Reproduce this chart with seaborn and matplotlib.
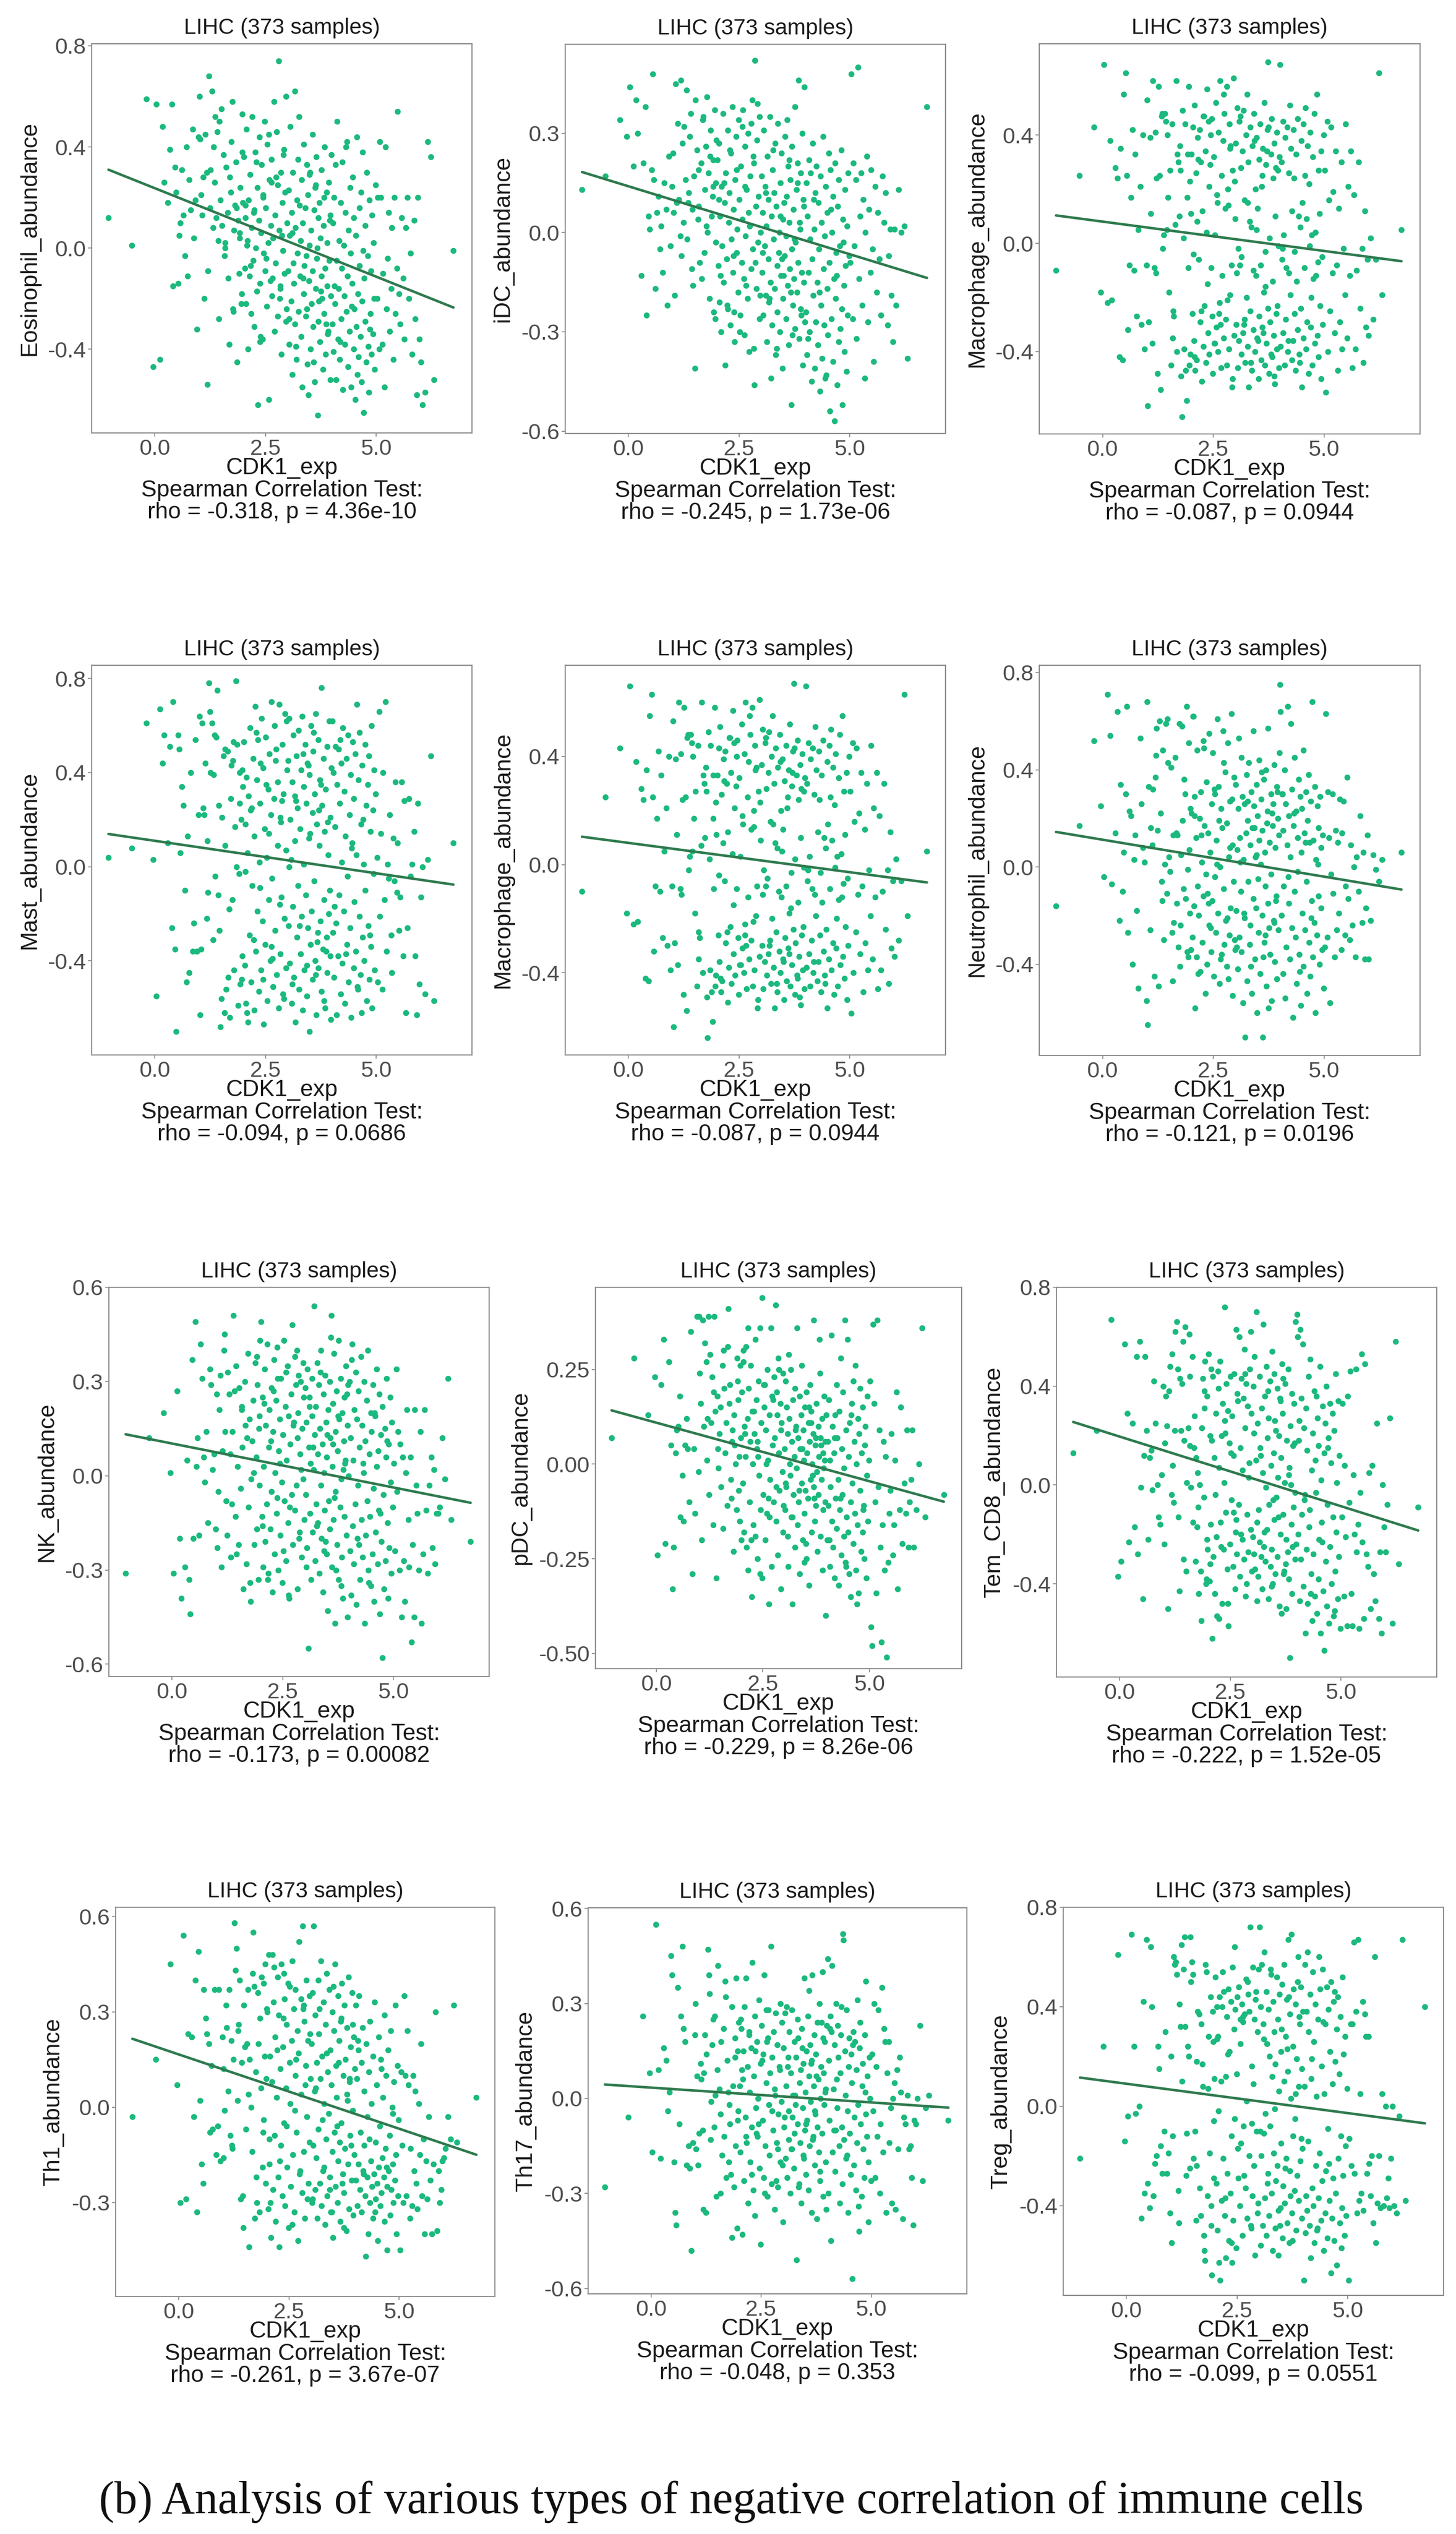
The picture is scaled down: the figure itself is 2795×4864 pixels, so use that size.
import numpy as np
import pandas as pd
import seaborn as sns
import matplotlib.pyplot as plt

W, H, DPI = 2795, 4864, 100

# CDK1 expression per sample, in hundredths (same samples in every panel)
cdk1_exp = [
    -105, -52, -19, -4,
    3, 11, 17, 21, 29, 34, 38, 41, 45, 48, 52, 55, 57, 61, 64, 68, 71, 74, 77, 81, 85, 88, 91, 95, 99,
    101, 104, 107, 109, 112, 114, 117, 119, 122, 124, 126, 129, 131, 133, 136, 138, 141, 143, 145, 148,
    150, 152, 155, 157, 159, 161, 164, 166, 168, 171, 173, 175, 177, 179, 181, 183, 186, 188, 190, 192,
    193, 195, 197, 198, 199, 120, 135, 146, 158, 169, 176, 184, 191, 196, 102,
    201, 203, 204, 206, 207, 209, 211, 212, 214, 215, 217, 219, 220, 222, 224, 225, 227, 228, 230, 232,
    233, 235, 236, 238, 240, 241, 243, 245, 246, 248, 249, 251, 253, 254, 256, 257, 259, 261, 262, 264,
    265, 267, 269, 270, 272, 273, 275, 277, 278, 280, 281, 283, 285, 286, 288, 289, 291, 293, 294, 296,
    297, 299, 208, 216, 223, 229, 237, 244, 252, 258, 266, 274, 282, 287, 292, 298, 205, 239, 263, 284,
    301, 302, 304, 305, 306, 308, 309, 310, 312, 313, 314, 316, 317, 318, 320, 321, 322, 324, 325, 326,
    328, 329, 330, 332, 333, 334, 336, 337, 338, 340, 341, 342, 344, 345, 346, 348, 349, 350, 352, 353,
    354, 356, 357, 358, 360, 361, 362, 364, 365, 366, 368, 369, 370, 372, 373, 374, 376, 377, 378, 380,
    381, 382, 384, 385, 386, 388, 389, 390, 392, 393, 394, 396, 397, 398, 399, 303, 311, 319, 327, 335,
    343, 351, 359, 367, 375, 383, 391, 395, 347, 363, 371, 387,
    401, 402, 404, 405, 407, 408, 409, 411, 412, 414, 415, 417, 418, 420, 421, 423, 424, 425, 427, 428,
    430, 431, 433, 434, 436, 437, 438, 440, 441, 443, 444, 446, 447, 449, 450, 451, 453, 454, 456, 457,
    459, 460, 462, 463, 465, 466, 467, 469, 470, 472, 473, 475, 476, 478, 479, 481, 482, 484, 485, 487,
    488, 490, 491, 493, 494, 496, 497, 499, 406, 419, 432, 445, 458, 471, 486,
    502, 504, 507, 509, 511, 514, 516, 519, 521, 524, 526, 529, 531, 534, 536, 539, 541, 544, 547, 549,
    552, 555, 558, 561, 564, 567, 571, 574, 578, 582, 586, 589, 592, 595, 598,
    601, 605, 611, 617, 624, 631, 675]

# abundance values per panel, in hundredths, same sample order as cdk1_exp
eosinophil = [
    12, 1, 59, -47,
    57, -44, 48, 26, 18, 39, 57, -15, 32, 22, -14, 5, 10, 31, 13, -3, 40, -11, 27, 15, 47, 4, 19, -32, 44,
    60, 21, 13, 28, -20, 45, 30, -54, 68, 16, 31, 62, 8, 40, 52, 12, 46, 3, -28, 19, 55, 9, 37, -3, 0,
    32, 14, -12, -38, 22, 42, 58, -25, 7, 17, 34, -45, 11, -10, 4, 24, -22, 53, 38, 18, -9, 26, 50, 2, 28,
    -24, 16, 6, -18, 43,
    36, -8, 12, -22, 47, 3, -40, 19, -11, 29, -26, 8, 52, -5, 15, -31, 38, 0, -17, 24,
    -62, 11, 44, -14, 6, 33, -36, 21, -2, 50, -9, 16, -23, 41, 2, -60, 27, -13, 9, 35,
    -19, 4, 58, -33, 13, -6, 46, 25, -27, 74, 7, -16, 30, -42, 18, -1, 37, -10, 22, 60,
    -29, 10, 1, -7, 14, 34, -37, 20, -4, 45, -12, 28, -20, 5, 39, -24, 17, -35, 26, -15,
    -9, 23, -38, 5, 48, -21, 14, -50, 30, -6, -14, 62, -30, 8, -44, 19, -2, 35, -25, 52,
    -11, 3, -35, 27, -55, 10, -18, 41, -7, 16, -27, -3, 33, -46, 21, -13, 1, 29, -40, 7,
    -22, 45, -9, -31, 15, -53, 24, -16, 36, -4, -66, 12, -29, 18, -37, 4, -11, 31, -20, -48,
    9, -26, 40, -8, -42, 22, -15, 2, -33, 26, -5, -52, 13, -19, 37, -28, 6, -39, 17, -12,
    -24, 30, -45, 0, -17, 20, -34, 11, -58, 25, -21, -30,
    -30, 10, -41, 20, -22, 33, -52, -5, 50, -36, -16, 3, -44, 18, -28, -8, 34, -56, 1, -19,
    -38, 14, -25, 42, -11, -47, 7, -33, 24, -2, -55, -14, 28, -40, 12, -24, -60, 5, -31, 44,
    -18, -43, 16, -7, -35, 22, -53, -21, 38, -65, -12, -29, 9, -45, 30, -3, -39, -57, 19, -26,
    -9, -42, 13, -34, 2, -20, -48, 25, -15, -37, 40, -23, -50, -1, -32,
    -20, 20, -40, 42, 20, -38, -10, -55, 40, -24, -4, 14, -33, -16, 8, -44, 20, -26, -8, 54,
    -18, -30, 12, -12, -36, 8, 20, -20, -2, -42, 11, -28, -58, 20, -36,
    -45, -62, -57, 42, 36, -52, -1]

idc = [
    13, 17, 34, 29,
    44, 20, 40, 30, -13, 21, 38, -25, 5, 1, 19, 48, 16, -17, 6, 11, -5, 2, -12, 15, 7, -22, 23, -4, 14,
    24, -19, 45, 9, 33, 10, -1, 46, 27, 3, 32, 16, 43, -2, 12, 29, 36, -11, 7, 17, -41, 40, 25, 4, 8,
    -9, 21, -14, 34, -6, 13, 26, 41, 0, 18, -20, 31, 5, 11, 22, -24, 37, -3, 15, 28, -7, 9, -16, 19, 35,
    2, 23, 14, -26, 6,
    22, -10, 27, -21, 5, -30, 14, -4, 36, -15, 9, -40, 18, -8, 31, -23, 3, 12, -28, 24,
    -2, 38, -12, 7, -33, 16, 29, -6, 1, -18, 34, 10, -25, 20, -9, 4, 37, -14, -31, 26,
    -1, 13, -20, 30, 6, -36, 17, -11, 33, 40, -5, 21, -46, 52, 8, -17, 28, -3, 11, -26,
    35, 0, -13, 15, -22, 25, -7, 19, -30, 32, -16, 2, 23, -9, 39, -19, 10, -24, 14, -35,
    17, -12, 6, -25, 31, -4, 14, -19, 2, -33, 23, -8, 10, -21, 35, -15, -44, 5, -28, 19,
    -2, 12, -17, 27, -37, 8, -10, -24, 33, -6, 0, -30, 15, -13, 24, -41, 4, -20, 9, -7,
    29, -26, -1, 11, -16, 20, -34, 3, -11, 16, -52, -5, 26, -22, 7, -14, 38, -29, -3, 13,
    -18, 21, -9, 46, -32, 1, -23, 18, -12, 30, -40, 8, -15, 44, -27, -6, 12, -20, 25, -35,
    5, -13, 34, -18, -2, 15, -25, 10, -8, 22, -31, 3,
    -24, 15, -37, 5, -12, 22, -30, -2, 18, -45, -8, 27, -19, 1, -41, 12, -27, 20, -15, -34,
    9, -5, -48, 17, -22, 3, -38, 29, -11, -28, -1, 14, -43, -17, 6, -31, 24, -9, -54, 19,
    -26, 0, -39, 11, -14, -57, 21, -20, -6, -46, 8, -33, 16, -4, -29, 25, -23, -52, 4, -16,
    -36, 13, -10, -42, 2, -25, 18, -7, -32, 10, -18, -44, 7, -13, -3,
    -9, 48, -26, 21, -4, 16, -32, 50, -14, 5, 18, -22, 10, -44, 0, 23, -27, 7, -12, 19,
    -5, -39, 14, -18, 6, -8, -25, 17, 3, 12, -28, -7, 1, -19, -33,
    1, -22, 13, 0, 2, -38, 38]

macrophage = [
    -10, 25, 43, -18,
    66, -22, 38, -21, 28, 24, -42, 35, -43, 55, 63, 25, -32, -8, 17, 42, -10, 33, -27, 5, 21, -30, 40, -39, -8,
    53, -29, 39, 11, -37, 60, -9, 41, 24, -48, 58, 25, -54, 47, -2, 3, 48, 45, 5, 17, -18, 27, -45, 44, -25,
    -27, 7, 60, -40, 30, 10, 36, -49, -64, 49, 2, 44, -47, -58, 33, -9, 58, 23, -41, 11, -11, 48, 40, -35, 33,
    27, -39, 17, -45, -60,
    33, -26, 43, -36, 51, -47, 26, -43, 8, 39, -6, 42, -29, 30, -51, 12, -38, 47, -23, 34,
    -44, 4, 57, -33, 21, -41, 29, -9, 46, -27, -48, 32, 3, -37, 52, -31, 15, -40, 41, -22,
    60, -46, 25, -12, 38, -35, 48, 13, -28, 58, -45, 20, -39, 44, -19, 36, -8, -50, 27, 61,
    -34, 9, -42, 31, -25, 47, -15, 40, -37, 18, -30, 55, -21, 35, -53, 23, -4, 45, -26, 14,
    37, -30, 50, -46, -2, -36, 45, -8, 28, -41, -5, 34, -33, 49, -28, 16, -44, 40, -20, 55,
    -38, 30, -53, 8, 43, -25, 6, -47, 36, -10, -32, 48, -40, 20, -12, 39, -35, 13, -50, 31,
    -27, 44, -8, -43, 25, -31, 35, -18, 52, -45, -3, 29, -37, 42, -24, 67, -48, 2, -29, 33,
    -41, 46, -14, 24, -34, 37, -52, 10, -26, 41, -39, 27, -1, -46, 32, -11, 47, -30, 15, -44,
    38, -36, 21, -16, 43, -42, 28, -23, 5, -33, 34, -49,
    66, -38, 30, -6, 45, -33, 3, -45, 39, -28, -9, 43, -40, 26, -11, 51, -19, 35, -43, 12,
    -36, 42, -26, -3, -47, 33, -14, 46, -32, 10, -41, 6, -24, 38, -53, 15, -35, 44, -9, 25,
    -39, 9, -29, 36, -48, 22, -1, 41, -31, 3, -45, 32, -13, 48, -37, 4, -12, 55, -34, 27,
    -42, 11, -23, 34, -50, -5, -30, 40, -2, -36, 24, -44, 50, -20, -7,
    27, -55, 45, -40, 16, -25, 43, -11, 19, -33, 34, -8, -47, 13, -29, 30, -39, -2, -19, 44,
    -35, 21, -12, 34, -46, 18, -39, -10, 30, -24, -2, -44, 12, -31, -6,
    -34, 2, -28, -6, 63, -19, 5]

mast = [
    4, 8, 61, 3,
    -55, 67, 44, 56, 10, 51, -26, 70, -35, -70, 56, 50, 6, 34, 26, -10, -49, 13, -45, 40, -36, -24, 54, -36, 22,
    64, -35, 61, 25, 22, 44, -22, 11, 78, 66, 40, 61, -31, 39, -4, 55, 75, -12, 26, -68, -56, 21, 47, -62, 9,
    -52, 49, -47, -18, 29, 43, -14, 53, -44, 17, 79, 52, -59, -3, 40, -50, 20, 41, -38, 34, -11, 56, -27, 50,
    -64, 45, 0, 27, -48, -63,
    53, -42, 18, -58, 38, 6, -66, 30, -29, 59, -49, 25, -8, 46, -61, 13, 68, -36, 37, -19,
    54, -53, 2, 27, -44, 63, -23, 42, -67, 16, -33, 55, 4, -57, 33, -14, 48, -40, 22, 70,
    -5, -51, 29, 60, -27, 45, -46, 9, 36, -60, 69, -37, 19, -13, 52, -54, 31, -22, 65, -43,
    7, 41, -62, 24, -31, 57, -9, -48, 35, 14, -39, 50, -16, 28, -56, 62, -2, 44, -34, 21,
    45, -25, 63, -41, 20, 3, -58, 36, -17, 56, -47, 11, 30, -66, 47, -30, 25, -8, 58, -52,
    16, -37, 41, -21, 64, -61, 1, 34, -44, 52, -12, 27, -55, 44, -26, 12, -70, 39, -33, 60,
    -19, 23, -48, 49, -6, 31, -40, 65, -63, 18, -28, 54, -43, 9, 37, -23, 76, -53, 26, -35,
    46, -14, 15, -60, 33, -30, 51, -45, 5, -20, 62, -38, 21, -65, 42, 0, -50, 28, -25, 48,
    -42, 14, 57, -32, 35, -57, 19, -10, 43, -46, 24, -36,
    62, -28, 40, -47, 17, 51, -24, -63, 35, -38, 50, -12, 27, -54, 44, 2, -41, 59, -19, 32,
    -58, 13, 46, -33, -4, 56, -49, 22, -26, 39, -64, 10, 53, -43, 29, -15, 48, -36, 5, 69,
    -52, 37, -21, 57, -46, 18, -62, 43, -30, 1, -40, 52, -10, 26, -57, 35, -25, 47, -48, 15,
    -34, 60, -60, 24, -3, 41, -44, 31, -17, 54, -37, 8, -51, 20, -29,
    4, -49, 66, -21, 14, -52, 40, -14, 70, -36, 1, -5, 22, -29, -45, 12, -6, 36, -11, 10,
    -27, -13, 36, -38, 28, -62, -26, 29, -4, 1, 15, -38, -63, 27, -50,
    -13, 0, -54, 3, 47, -57, 10]

neutrophil = [
    -16, 17, 52, 25,
    -4, 71, 54, -7, 14, 64, -22, 34, -10, 6, 30, 66, -27, 23, 21, -40, 3, 13, -18, -50, 53, 26, 8, 2, -55,
    68, 33, -26, 16, 9, 32, -45, 37, 57, 15, -49, 60, 22, -6, 48, -30, 1, 59, -11, 43, 4, -2, 41, -27, 13,
    -23, 45, 14, -15, -33, 59, -41, 5, 58, 19, -9, 30, -13, 66, -1, -37, 51, -19, 24, -34, 46, -14, 61, -47, 13,
    -24, 36, -35, 7, -65,
    22, -29, 62, -16, 29, -58, 12, -37, 48, -8, -20, 20, -43, 31, 2, -31, 52, -12, 17, -52,
    -3, 35, -40, 14, 55, -24, 6, -35, 26, -14, 47, -45, -4, 30, -27, 11, 61, -19, 33, -48,
    0, 24, -36, 16, 56, -9, -32, 39, -22, 18, -41, 51, 4, -28, 27, -17, 63, -53, 9, -6,
    37, -34, 21, -44, 13, 49, -11, -25, 32, 1, -38, 43, -21, 8, 28, -30, 62, -15, 19, -46,
    34, -18, 7, -42, 24, 53, -29, 12, -10, 45, -35, 29, -56, 3, 26, -21, -70, 14, 38, -47,
    19, -6, 43, -32, 9, -24, 31, -52, 16, 56, -13, 25, -38, 4, -17, 34, -60, 21, -27, 11,
    44, -44, 1, 28, -20, 15, -70, 36, -31, 6, -8, 40, -49, 23, -15, 57, -25, 10, -36, 30,
    -3, -55, 17, 26, -22, 42, -39, 8, -12, 33, -46, 20, -26, 13, 47, -33, 2, -19, 27, -41,
    16, -5, 39, -28, -58, 22, -14, 31, 5, -37, 18, -23,
    75, 64, -20, 30, -44, 15, -8, 40, -54, 26, -33, 9, 66, -15, 21, -38, 4, 59, -25, 32,
    -62, 17, -10, 45, -29, 23, -48, 12, -2, 36, -36, 29, -57, 6, 24, -19, 48, -41, 14, -26,
    31, -6, -52, 19, 38, -31, 10, -45, 27, -14, 68, -37, 11, -23, 33, -60, 3, -28, 25, -12,
    16, -40, 29, -17, 8, -34, 13, -50, 30, -4, 22, -43, 10, -21, 1,
    -33, 63, -29, 31, 12, -56, -3, 30, -11, -37, 15, -26, 10, -19, 28, -34, 14, 27, -28, -8,
    37, -13, -30, 9, -24, 0, -37, 4, -10, 21, -23, 6, -38, -17, 13,
    -38, -22, 5, -1, -6, 3, 6]

nk = [
    -31, 12, 20, 1,
    -31, 27, -20, -39, -29, 5, -33, -44, 37, -20, 49, 3, 12, -19, 42, 31, 6, -2, 14, -15, 34, 29, 2, 7, -17,
    26, -5, 21, 32, -29, 8, 40, 45, -8, -19, 33, 26, 7, -26, 14, 51, 27, -13, 35, 3, -22, 28, -4, 21, 9,
    -36, 30, 16, -28, 39, -10, 18, -40, -1, 11, 24, -22, 36, 6, -17, 29, -33, 19, -3, 43, 14, -9, -25, 22, 12,
    -34, 1, 38, 15, -23,
    49, -13, 25, -29, 3, 34, -21, 16, -9, 42, -31, 9, 21, -17, 28, -5, -37, 14, 37, -25,
    1, 24, -12, 41, -30, 8, 18, -19, 31, -2, -34, 13, 43, -8, 22, -27, 5, 35, -15, 19,
    -39, 10, 26, -6, 48, -22, 17, 38, -11, 29, -3, -36, 20, 32, -18, 7, 30, -26, 15, -1,
    36, -14, 23, -33, 11, 27, -7, 4, -24, 33, -10, 16, 40, -20, 2, 25, -16, 31, -38, 12,
    28, -6, 17, -23, 34, -55, 9, 25, -12, 4, -33, 19, 31, -18, 2, 54, 13, -27, 22, -9,
    36, 7, -15, 29, -31, 15, -3, 40, -20, 10, -37, 26, 1, -11, 32, 17, -25, 6, -43, 21,
    -8, 30, -17, 12, 51, -29, 3, 23, -14, 39, -47, 14, -5, 27, -22, 8, 43, -33, 18, -10,
    31, -1, -26, 20, -39, 11, 25, -13, 5, 35, -19, 16, -45, 29, 0, -29, 22, 9, -16, 33,
    -24, 13, 44, -7, 19, -35, 4, 26, -21, 10, -30, 2,
    30, -24, 12, -38, 42, -16, 5, -28, 21, -9, 33, -41, 18, -3, 27, -22, 9, -33, 38, -14,
    16, -26, 1, 30, -47, 11, -19, 24, -8, 40, -30, 7, -13, 20, -35, 14, -25, 29, -4, -40,
    19, -18, 3, 34, -28, 8, -11, 26, -44, 13, -21, -58, 22, -6, -36, 15, -27, 6, 31, -15,
    -39, 10, -23, 25, -2, -31, 17, -10, 37, -20, 4, -34, 20, -12, 11,
    4, -24, 34, -5, 14, -30, 10, -45, 6, -27, -40, 1, 21, -14, -29, 6, -53, -22, -45, 21,
    -3, -12, -30, 14, -47, -25, 21, -11, -31, -3, 6, -23, 2, -28, -12,
    -12, -10, 12, -1, 31, -14, -21]

pdc = [
    7, 28, 13, 23,
    -24, 21, 33, -21, 27, 5, -33, -22, 3, 9, 10, 18, -14, -3, -15, 5, 12, 4, -10, 35, -29, 4, -13, 39, -2,
    39, 16, -20, 38, 10, 32, 27, 1, 39, -8, 29, 11, 23, -16, 39, 14, -30, 18, 4, 8, 15, -6, 26, -17, 20,
    3, 11, -11, 31, 16, 21, -4, 6, 9, -23, 13, 0, -12, 28, 17, -7, 2, 26, 7, -20, 12, 19, -1, 30, 41,
    -9, 5, 22, -15, 24,
    19, -5, 27, -18, 10, 2, 31, -22, 12, -28, 20, -10, 6, 26, -35, 14, 0, -16, 8, 33,
    -19, 17, 4, -25, 22, -3, 36, -12, 11, -30, 44, -8, 15, 21, -20, 9, -13, 25, 1, -37,
    13, -4, 36, -27, 18, 5, -10, 23, 7, 42, -15, 19, -24, 28, 3, -7, 16, -33, 11, -2,
    24, -11, 8, 36, -20, 14, 6, -29, 21, 0, -14, 17, -6, 25, 9, -18, 30, 2, -9, 13,
    4, -12, 22, -6, 15, -19, 8, -27, 12, 0, -3, 25, -14, 6, -37, 17, -8, 2, 20, -22,
    10, -1, 36, -16, 7, -10, 18, -29, 4, 13, -5, 26, -20, 9, 1, -13, 15, -7, -25, 19,
    3, -9, 11, -32, 6, 21, -4, 14, -18, 0, 8, -6, 38, -15, 5, -11, 16, -2, -23, 10,
    -8, 2, 24, -19, 7, -4, 12, -28, 3, -1, 18, -10, 6, -40, 13, -5, 29, -14, 9, -7,
    4, -21, 15, -3, 7, 33, -12, 1, -26, 11, -9, 5,
    -20, 6, -11, 17, -27, 1, -6, 34, -15, 10, -22, 3, -30, 13, -9, 21, -17, 7, -4, -32,
    14, -12, 28, -24, 4, -8, 19, -19, -1, 38, -26, 9, -14, 33, -18, 2, -29, 11, -10, -35,
    16, -5, 22, -21, 6, -13, 26, -28, 0, -16, 12, -34, 8, -7, 20, -23, 3, -18, 15, -11,
    -25, 5, 10, -30, -3, 18, -15, 1, -20, 7, -9, -27, 13, -37, -12,
    22, -43, -48, 37, 16, -10, -34, 38, -6, 9, -22, -47, -16, 6, -28, 2, -51, -26, -13, -7,
    8, -24, -16, 1, 19, -33, -12, 15, -21, -5, -13, 9, -22, -10, -4,
    9, -22, -12, 0, 36, -14, -8]

tem_cd8 = [
    13, 22, 67, -37,
    -31, 57, 29, -23, 25, -17, 52, -28, 58, -1, -46, 12, 52, 22, -22, 11, 14, -2, 42, 25, 0, -13, -16, 4, 40,
    -24, 36, 24, -50, 38, 48, -4, 53, -7, 22, 62, 66, 47, -13, 43, 22, 41, 58, -30, 64, -35, 1, 23, 61, 44,
    -1, 52, -15, 15, -31, 11, -17, -9, -44, 0, -35, 23, 43, -5, 38, 50, -40, -22, 36, -26, 8, -43, 18, 16, 28,
    5, -55, 31, -38, 17,
    53, -39, 20, -16, 47, -62, 44, -29, 11, -44, 29, -21, -53, 46, 7, -54, 50, -15, 20, -48,
    33, -26, 1, 72, -11, 41, -34, 30, -57, 17, -24, 44, -6, 28, -33, 12, 45, -42, -19, 63,
    -28, 34, -8, 60, -37, 15, 43, -22, 6, 35, -30, 23, -45, 41, -12, 32, -27, 9, 47, -18,
    62, -35, 18, -4, 39, -25, 26, -48, 13, -11, 37, -20, 55, -40, 3, 29, -32, 21, -14, 45,
    -21, 40, -28, 52, -34, 10, 70, -15, 25, -37, -10, 44, -23, 15, -29, 31, -42, 5, 65, -25,
    36, -31, -1, 48, -18, 19, -46, 27, -8, 42, -33, 8, -26, 54, -40, 13, -14, 45, -36, 22,
    -5, 39, -29, 3, 20, -49, 35, -20, 11, -52, 29, -12, 43, -35, 1, 41, -22, -50, 18, -27,
    47, -38, 7, -70, 24, -16, 37, -44, 16, -9, 33, -30, -3, 66, -24, 21, -47, 12, -19, 38,
    -41, 26, -13, 49, -32, 4, -25, 17, -6, 34, -36, 0,
    69, 60, -20, 18, -47, 63, -30, 35, -12, 57, -41, 23, -6, -60, 31, -26, 14, -48, 44, -17,
    -10, 51, -36, 6, -55, 21, -28, 38, -45, 10, -3, -52, 27, -38, 16, -22, 48, -60, 2, -15,
    32, -43, 13, -67, 25, -31, 40, -49, -8, 19, -56, 33, -25, 9, -40, 29, -13, -53, 22, -35,
    45, -19, 1, -46, 34, -29, 12, -58, 26, -4, -44, 36, -23, 15, -51,
    -13, 33, -45, 8, -21, -57, 36, -7, 46, -44, -57, 4, -20, 47, -27, -16, -58, -3, 53, -23,
    -54, 49, -28, -33, 5, -50, 8, -36, -47, 25, -54, -27, -60, 0, -17,
    -27, -8, 27, -56, 58, -32, -9]

th1 = [
    -3, 15, 45, 7,
    -30, 54, -29, 23, 22, -3, 40, -33, 49, 2, -18, -24, 37, 28, 23, 20, -8, 13, -7, 37, -15, -6, 37, -17, 22,
    -16, -1, 32, 25, 5, 37, -9, 21, -13, 15, 58, 43, 50, 2, 26, 40, -29, 14, -28, 32, 19, -7, 20, 37, -44,
    15, 0, -14, 42, 38, -35, 11, -30, 36, 20, -33, 6, 41, -19, 39, -4, 16, -24, 9, 31, -12, 24, -38, 4, 55,
    -22, 28, -8, 45, 12,
    30, -32, 48, -18, 16, -41, 8, 48, -26, 33, -9, 22, -36, 3, 41, -22, 29, -44, 12, -12,
    45, -28, 19, -5, 34, -31, 6, 26, -19, 39, -38, 14, 1, -25, 21, 46, -15, 31, -33, 10,
    37, -8, 24, -42, 17, 52, -20, 4, 34, -27, 57, -14, 27, -35, 13, 40, -3, 21, -24, 35,
    -11, 9, -30, 44, 18, -17, 28, -6, 38, -37, 15, -21, 31, 7, -29, 23, -10, 42, -1, 32,
    20, -30, 36, -12, 57, 5, -26, 29, -16, 14, -35, 40, -7, 23, -24, 9, 46, -31, 16, -4,
    33, -19, 1, -37, 26, -10, 42, -28, 11, -2, 37, -22, 18, -33, 7, 30, -14, -41, 24, -8,
    45, -25, 13, 3, -30, 35, -17, 21, -11, -36, 28, -5, 39, -21, 10, -27, 32, -13, 15, -39,
    4, 25, -18, 41, -32, 8, -9, 19, -23, 36, -1, -34, 22, -15, 12, -29, 6, 31, -20, 17,
    -26, 38, -6, 27, -38, 2, -12, 26, -33, 14, -24, 9,
    32, -23, 9, -31, 18, -18, 35, -26, -8, 14, -33, 25, -20, -12, 5, -28, -47, 20, -22, -3,
    -40, 11, -30, 27, -17, 1, -25, -35, 16, -21, 33, -11, -29, 7, -24, -42, 22, -19, -6, -31,
    12, -27, -16, 3, -22, 29, -36, -13, 10, -25, -45, 18, -20, -9, -34, 24, -26, 0, -18, -30,
    8, -23, 32, -15, -40, 13, -28, -4, 21, -21, -10, -33, 15, -19, -2,
    -45, 11, -12, -30, 35, 10, -28, 24, 7, -35, -13, -31, 10, -20, 5, -24, -32, 1, -15, 20,
    -28, -10, -40, -17, -29, -3, -23, -40, -18, 30, -39, -20, -30, -26, -17,
    -16, -13, -3, -10, 32, -11, 3]

th17 = [
    -28, -6, 26, 8,
    -17, 55, 9, -19, 16, 12, -4, 2, 45, 39, -20, -36, -40, 35, -8, 26, 48, 22, 18, -21, -15, -22, -48, -14, 20,
    30, 7, -21, -11, 11, 6, -10, -35, 20, -36, 14, 47, 39, 33, -1, 17, 25, -9, 26, -31, 9, 42, 3, -5, 18,
    -18, 22, -12, 37, -25, 12, 2, -2, -8, -24, 29, 4, -28, 19, -15, 38, -41, 15, -4, 24, 8, -13, 1, -30, 32,
    -20, -44, 13, -7, -16,
    4, -17, 25, 9, -43, 15, -26, 29, -6, 38, -14, 10, -33, 21, 2, -20, 16, -9, 43, -29,
    7, -37, 26, -3, 18, -12, 0, 31, -22, 11, -46, 23, -7, 14, -25, 39, -15, 5, 28, -31,
    19, -2, -18, 8, 48, -27, 13, -10, 21, -35, 3, 27, -14, 17, -28, -5, 10, 30, -20, -1,
    24, -39, 6, -12, 20, -24, 15, -8, 12, -30, 28, -4, 1, -16, 9, -21, 22, -11, 18, -26,
    16, -9, 27, -19, 4, 29, -25, 10, -4, -13, 21, -30, 8, -16, 28, -6, 1, -22, 18, -11,
    -2, 13, -51, 25, -8, 19, -27, 5, -14, 9, -33, 22, -3, 11, -18, 38, -10, 2, -24, 15,
    -7, 26, -29, 7, -15, 17, -1, -36, 12, 39, -12, 4, 20, -21, -5, 14, -38, 24, -9, 6,
    -17, 30, -26, 0, 10, -11, 40, -31, 8, -2, 18, -20, 3, -35, 23, -6, 13, -16, 1, -28,
    16, -8, 34, -13, 7, -23, 19, 2, -19, 11, -4, 24,
    44, -30, 12, -7, 26, -45, 21, 42, -17, 3, -10, 17, -23, 30, 6, -3, 23, 13, -15, -33,
    8, 20, -9, -27, 52, 50, -13, 15, 1, -19, 28, -4, -36, 10, 19, -11, -24, 14, 5, -57,
    21, -21, -6, 18, -29, 9, -14, 31, -2, -42, 16, 24, -8, -31, 4, 11, -16, -25, 20, -5,
    37, -12, 7, -20, -39, 13, 0, -26, 22, -10, 29, -18, 17, -34, 2,
    14, -4, 30, -25, 10, -12, 28, -30, -8, 35, -17, 22, 18, -36, 8, 18, -14, -3, -33, 0,
    5, -35, 9, -16, 13, 2, -38, -6, -8, 1, -16, -15, -25, -40, -7,
    -8, 0, 23, -26, -3, 1, -7]

treg = [
    -21, 24, 61, -14,
    -4, 69, 24, -3, 0, -45, 42, -35, 67, -31, -41, 64, 40, -36, -23, -20, 24, 15, -16, -27, -10, 30, -27, -19, -43,
    20, -12, 60, 57, 58, 53, -34, -47, 32, 65, 10, 55, 68, 32, -11, 24, 20, -25, 68, 58, 53, -21, -10, -46, 18,
    38, 37, -33, -44, 17, 8, -52, -62, 57, 54, -36, 28, -19, 44, -40, -68, 38, -6, -29, 11, 41, -28, 50, -24, 33,
    -58, 7, -48, 26, -55,
    52, -31, 40, -50, 28, -63, 44, -70, 10, -38, 54, -21, 46, -44, 12, -61, 36, -27, 47, -54,
    22, -35, 42, -12, 56, -46, 31, -5, 39, -57, 13, 44, -29, 48, -40, 25, -15, 41, -52, 34,
    -8, 37, -33, 51, 2, -45, 45, -20, 38, 72, -48, 16, -36, 56, -24, 35, -60, 46, -10, 30,
    -43, 55, -2, 40, -37, 21, -55, 64, -17, 35, -28, 50, -49, 9, 43, -39, 27, -63, 36, -7,
    72, -10, 40, -20, 57, -48, 33, -11, 62, -37, -3, 46, -52, 25, -27, 39, -44, 20, -8, 55,
    -35, 12, -58, 42, -19, 30, -49, 17, -30, 52, -24, 35, -60, 6, 45, -41, 22, -15, 49, -53,
    -32, 10, 57, -39, 28, -21, 43, -47, 14, 67, -55, 37, -26, 3, 69, -43, 24, -12, 47, -34,
    -5, 41, -50, 19, -28, 60, -38, 8, 33, -22, 48, -45, 15, -17, 38, -56, 27, -31, 53, -1,
    -42, 31, -25, 44, -54, 5, 36, -13, -48, 23, -36, 50,
    -70, 8, 57, -51, 38, -42, 62, -14, 30, -48, 45, -61, 11, -33, 54, -40, 26, -55, 41, -24,
    4, -50, 35, -37, 60, -19, 47, -46, 16, -30, 55, -58, 5, -43, 33, -26, 48, -53, -9, 39,
    -38, 22, -67, 50, -45, 9, -29, 42, -54, 18, -35, 31, -64, 44, -21, 13, -47, 36, -12, -41,
    52, -28, 21, -52, 28, -16, -44, 7, -36, 19, -49, 34, -23, 46, -57,
    -70, -13, 33, -24, 33, 66, -27, 38, -43, 67, -38, 5, -35, 42, -42, 37, 28, -27, 28, -23,
    -36, -20, -47, 60, -55, -39, -20, -41, 5, -40, 0, -37, -29, -41, -21,
    0, -40, -43, -4, 67, -38, 40]

cells = ['Eosinophil', 'iDC', 'Macrophage', 'Mast', 'Macrophage', 'Neutrophil',
         'NK', 'pDC', 'Tem_CD8', 'Th1', 'Th17', 'Treg']
panel_values = [eosinophil, idc, macrophage, mast, macrophage, neutrophil,
                nk, pdc, tem_cd8, th1, th17, treg]
rho = ['-0.318', '-0.245', '-0.087', '-0.094', '-0.087', '-0.121',
       '-0.173', '-0.229', '-0.222', '-0.261', '-0.048', '-0.099']
pval = ['4.36e-10', '1.73e-06', '0.0944', '0.0686', '0.0944', '0.0196',
        '0.00082', '8.26e-06', '1.52e-05', '3.67e-07', '0.353', '0.0551']
# fitted line, value at lowest and highest CDK1_exp
fit_start = [0.310, 0.183, 0.103, 0.139, 0.103, 0.144, 0.132, 0.142, 0.255, 0.215, 0.044, 0.115]
fit_end = [-0.235, -0.137, -0.066, -0.076, -0.066, -0.093, -0.086, -0.099, -0.184, -0.150, -0.029, -0.069]

# plot boxes in pixels: left, top, right, bottom
boxes = [(176, 84, 906, 831), (1085, 85, 1815, 832), (1995, 84, 2726, 833),
         (176, 1277, 906, 2025), (1085, 1277, 1815, 2025), (1995, 1277, 2726, 2026),
         (209, 2471, 939, 3218), (1143, 2471, 1846, 3203), (2028, 2471, 2758, 3219),
         (222, 3661, 950, 4408), (1129, 3662, 1856, 4403), (2041, 3661, 2771, 4406)]
ylims = [(-0.731, 0.808), (-0.607, 0.569), (-0.704, 0.737), (-0.80, 0.856),
         (-0.704, 0.737), (-0.776, 0.83), (-0.639, 0.60), (-0.54, 0.467),
         (-0.777, 0.80), (-0.596, 0.629), (-0.617, 0.602), (-0.761, 0.80)]
yticks = [[-0.4, 0, 0.4, 0.8], [-0.6, -0.3, 0, 0.3], [-0.4, 0, 0.4], [-0.4, 0, 0.4, 0.8],
          [-0.4, 0, 0.4], [-0.4, 0, 0.4, 0.8], [-0.6, -0.3, 0, 0.3, 0.6], [-0.5, -0.25, 0, 0.25],
          [-0.4, 0, 0.4, 0.8], [-0.3, 0, 0.3, 0.6], [-0.6, -0.3, 0, 0.3, 0.6], [-0.4, 0, 0.4, 0.8]]

POINT = '#1bb97d'
LINE = '#2e7a4e'
BORDER = '#8c8c8c'

sns.set_style('white')
plt.rcParams['font.family'] = ['Liberation Sans', 'DejaVu Sans']
plt.rcParams['axes.unicode_minus'] = False

fig = plt.figure(figsize=(W / DPI, H / DPI), dpi=DPI)
x_all = np.array(cdk1_exp) / 100

for i, cell in enumerate(cells):
    l, t, r, b = boxes[i]
    ax = fig.add_axes([l / W, 1 - b / H, (r - l) / W, (b - t) / H])
    ycol = cell + '_abundance'
    vals = np.array(panel_values[i]) / 100
    k = min(len(x_all), len(vals))
    df = pd.DataFrame({'CDK1_exp': x_all[:k], ycol: vals[:k]})
    sns.scatterplot(data=df, x='CDK1_exp', y=ycol, ax=ax, color=POINT, s=68,
                    linewidth=0, legend=False, zorder=2)
    fit = pd.DataFrame({'CDK1_exp': [x_all.min(), x_all.max()], ycol: [fit_start[i], fit_end[i]]})
    sns.lineplot(data=fit, x='CDK1_exp', y=ycol, ax=ax, color=LINE, linewidth=3.5, zorder=3)

    ax.set_xlim(-1.43, 7.17)
    ax.set_ylim(*ylims[i])
    ax.set_xticks([0, 2.5, 5.0])
    ax.set_xticklabels(['0.0', '2.5', '5.0'])
    ax.set_yticks(yticks[i])
    fmt = '{:.2f}' if cell == 'pDC' else '{:.1f}'
    ax.set_yticklabels([fmt.format(v) for v in yticks[i]])
    ax.tick_params(axis='both', which='major', direction='out', length=5, width=1.3,
                   color=BORDER, labelsize=31, labelcolor='#4d4d4d', pad=3, bottom=True, left=True)
    for sp in ax.spines.values():
        sp.set_visible(True)
        sp.set_color(BORDER)
        sp.set_linewidth(1.6)

    ax.set_title('LIHC (373 samples)', fontsize=30.5, color='#1a1a1a', pad=14)
    ax.set_xlabel('CDK1_exp\nSpearman Correlation Test:\nrho = %s, p = %s' % (rho[i], pval[i]),
                  fontsize=32, color='#1a1a1a', linespacing=1.05, labelpad=-3)
    ax.set_ylabel(ycol, fontsize=32, color='#1a1a1a', labelpad=10)

fig.text(1404 / W, 1 - 4802 / H,
         '(b) Analysis of various types of negative correlation of immune cells',
         ha='center', va='center', fontsize=63.5, color='#111111', family='Liberation Serif')

fig.savefig('out.png', dpi=DPI, facecolor='white')
